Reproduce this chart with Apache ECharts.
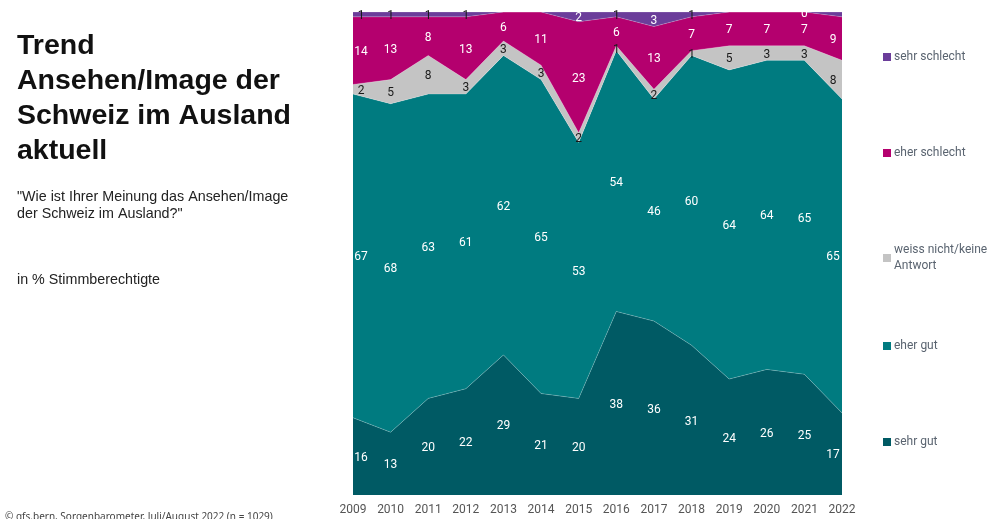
<!DOCTYPE html>
<html>
<head>
<meta charset="utf-8">
<script src="https://cdn.jsdelivr.net/npm/echarts@6/dist/echarts.min.js"></script>
<style>
html, body { margin: 0; padding: 0; background: #fff; }
#chart { width: 987px; height: 519px; }
</style>
</head>
<body>
<div id="chart"></div>
<script>
// Jahre
const years = ['2009', '2010', '2011', '2012', '2013', '2014', '2015', '2016', '2017', '2018', '2019', '2020', '2021', '2022']
// Anteile in %
const sehrGut = [16, 13, 20, 22, 29, 21, 20, 38, 36, 31, 24, 26, 25, 17]
const eherGut = [67, 68, 63, 61, 62, 65, 53, 54, 46, 60, 64, 64, 65, 65]
const weissNicht = [2, 5, 8, 3, 3, 3, 2, 1, 2, 1, 5, 3, 3, 8]
const eherSchlecht = [14, 13, 8, 13, 6, 11, 23, 6, 13, 7, 7, 7, 7, 9]
const sehrSchlecht = [1, 1, 1, 1, 0, 0, 2, 1, 3, 1, 0, 0, 0, 1]
// Jahre ohne Beschriftung bei "sehr schlecht"
const hiddenSehrSchlecht = ['2013', '2014', '2019', '2020', '2022']

const gridTop = 12
const gridBottom = 24
const plotHeight = 519 - gridTop - gridBottom
const labelFont = { fontFamily: 'Roboto', fontSize: 12 }

function bandData (values, name, colorFn) {
    return values.map((v, i) => {
        const hidden = name === 'sehr schlecht' && hiddenSehrSchlecht.includes(years[i])
        return {
            value: v,
            label: { show: !hidden, color: colorFn(v) }
        }
    })
}

function areaSeries (name, values, color, colorFn) {
    const last = values.length - 1
    return {
        name: name,
        type: 'line',
        stack: 'total',
        symbol: 'circle',
        symbolSize: 0,
        showSymbol: true,
        showAllSymbol: true,
        clip: false,
        z: 2,
        label: { show: true, position: 'inside', ...labelFont },
        // Beschriftung in die Mitte des Bandes schieben, Randwerte nach innen
        labelLayout: (params) => ({
            dx: params.dataIndex === 0 ? 8 : (params.dataIndex === last ? -9 : 0),
            dy: values[params.dataIndex] / 2 * plotHeight / 100 + 1.5,
            hideOverlap: false
        }),
        lineStyle: { width: 0.6, color: 'rgba(255,255,255,0.35)' },
        areaStyle: { color: color, opacity: 1 },
        itemStyle: { color: color },
        emphasis: { disabled: true },
        data: bandData(values, name, colorFn)
    }
}

const white = () => '#ffffff'
const dark = () => '#1a1a1a'

const legendNames = ['sehr schlecht', 'eher schlecht', 'weiss nicht/keine\nAntwort', 'eher gut', 'sehr gut']
const legendTops = [44, 140, 237, 333, 429]

const chart = echarts.init(document.getElementById('chart'))
chart.setOption({
    animation: false,
    grid: { left: 353, right: 145, top: gridTop, bottom: gridBottom },
    xAxis: {
        type: 'category',
        boundaryGap: false,
        data: years,
        axisLine: { show: false },
        axisTick: { show: false },
        axisLabel: { color: '#555', fontFamily: 'Roboto', fontSize: 12, margin: 9 }
    },
    yAxis: {
        type: 'value',
        min: 0,
        max: 100,
        show: false
    },
    legend: legendNames.map((n, i) => ({
        orient: 'vertical',
        left: 878,
        top: legendTops[i],
        data: [n],
        icon: 'rect',
        itemWidth: 8,
        itemHeight: 8,
        itemGap: 4,
        selectedMode: false,
        textStyle: { color: '#5a6470', fontFamily: 'Roboto', fontSize: 12, lineHeight: 16, padding: [0, 0, 0, -2] }
    })),
    graphic: [
        {
            type: 'text', left: 17, top: 29,
            style: {
                text: 'Trend\nAnsehen/Image der\nSchweiz im Ausland\naktuell',
                font: 'bold 28.5px "Liberation Sans", Arial, sans-serif',
                lineHeight: 35, fill: '#111'
            }
        },
        {
            type: 'text', left: 17, top: 189,
            style: {
                text: '"Wie ist Ihrer Meinung das Ansehen/Image\nder Schweiz im Ausland?"',
                font: '14.3px "Liberation Sans", Arial, sans-serif',
                lineHeight: 17, fill: '#222'
            }
        },
        {
            type: 'text', left: 17, top: 273,
            style: {
                text: 'in % Stimmberechtigte',
                font: '14.3px "Liberation Sans", Arial, sans-serif',
                fill: '#222'
            }
        },
        {
            type: 'text', left: 5, top: 512,
            style: {
                text: '\u00a9 gfs.bern, Sorgenbarometer, Juli/August 2022 (n = 1029)',
                font: '10px "Noto Sans", sans-serif',
                fill: '#444'
            }
        }
    ],
    series: [
        areaSeries('sehr gut', sehrGut, '#005a64', white),
        areaSeries('eher gut', eherGut, '#007b80', white),
        areaSeries('weiss nicht/keine\nAntwort', weissNicht, '#c4c4c4', dark),
        areaSeries('eher schlecht', eherSchlecht, '#b4006e', white),
        areaSeries('sehr schlecht', sehrSchlecht, '#6b3d9a', v => (v === 1 ? '#1a1a1a' : '#ffffff'))
    ]
})
</script>
</body>
</html>
